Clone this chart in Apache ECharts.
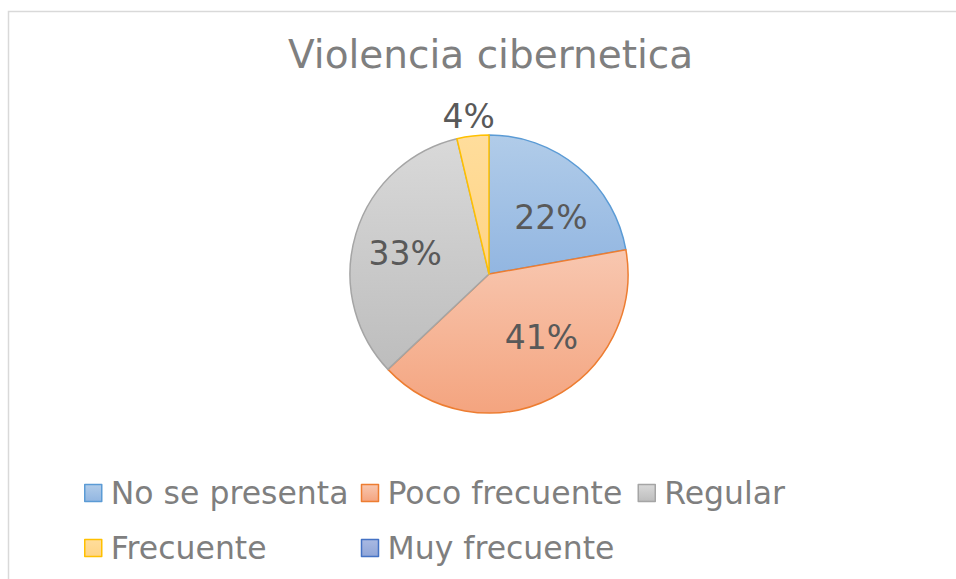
<!DOCTYPE html>
<html>
<head>
<meta charset="utf-8">
<script src="https://cdn.jsdelivr.net/npm/echarts@6/dist/echarts.min.js"></script>
<style>
  html,body{margin:0;padding:0;background:#fff;}
  #chart{width:956px;height:579px;}
</style>
</head>
<body>
<div id="chart"></div>
<script>
// Violencia cibernetica — pie, Excel look
const TITLE = 'Violencia cibernetica';
const categories = ['No se presenta','Poco frecuente','Regular','Frecuente','Muy frecuente'];
const counts = [6, 11, 9, 1, 0];

// fill top/bottom + border per slice
const FILL = [['#b1cce9','#92b6e1'],['#f8c7b0','#f4a47f'],['#d9d9d9','#bdbdbd'],['#ffdd9c','#ffd485'],['#a9b9e2','#8fa5d8']];
const EDGE = ['#5b9bd5','#ed7d31','#a5a5a5','#ffc000','#4472c4'];
const FONT = '"DejaVu Sans", Verdana, sans-serif';
// Excel's label placement isn't exactly radial; small nudges
const NUDGE = [[7,9],[14,-13],[-2,4],[27,-19],[0,0]];

const grad = (a,b) => new echarts.graphic.LinearGradient(0,0,0,1,[{offset:0,color:a},{offset:1,color:b}]);

const mainData = categories.map((n,i)=>({
  name:n, value:counts[i],
  itemStyle:{color:grad(FILL[i][0],FILL[i][1]), borderColor:EDGE[i], borderWidth: counts[i] ? 1.5 : 0}
}));
// labels-only copy of the pie
const labelData = categories.map((n,i)=>({
  name:n, value:counts[i],
  label: counts[i]===0 ? {show:false} :
    {position: counts[i]/27 < 0.08 ? 'outside' : 'inside', offset:NUDGE[i]}
}));

const chart = echarts.init(document.getElementById('chart'), null, {renderer:'svg'});
chart.setOption({
  backgroundColor:'#fff',
  animation:false,
  graphic:[{type:'rect', silent:true, shape:{x:8.5,y:11.5,width:1000,height:700},
    style:{fill:'none', stroke:'#d9d9d9', lineWidth:1.5}}],
  title:{text:TITLE, left:288, top:35, padding:0,
    textStyle:{fontFamily:FONT, fontSize:39, fontWeight:'normal', color:'#7f7f7f'}},
  legend:{
    left:84, top:470, width:840, padding:0,
    itemWidth:17, itemHeight:17, itemGap:9, icon:'rect',
    data:categories.map((n,i)=>({name:n, itemStyle:{color:grad(FILL[i][0],FILL[i][1]), borderColor:EDGE[i], borderWidth:1.5}})),
    textStyle:{fontFamily:FONT, fontSize:31.5, color:'#7f7f7f', width:241, height:46, lineHeight:46, padding:[0,0,0,4]}
  },
  series:[
    {type:'pie', name:'main', center:[489,274], radius:139, startAngle:90, clockwise:true,
      silent:true, label:{show:false}, labelLine:{show:false}, data:mainData},
    {type:'pie', name:'labels', center:[489,274], radius:[26,139], startAngle:90, clockwise:true,
      silent:true, percentPrecision:0, itemStyle:{color:'rgba(0,0,0,0)', borderWidth:0},
      label:{show:true, formatter:'{d}%', fontFamily:FONT, fontSize:33, color:'#595959'},
      labelLine:{show:false, length:0, length2:0},
      data:labelData}
  ]
});
</script>
</body>
</html>
